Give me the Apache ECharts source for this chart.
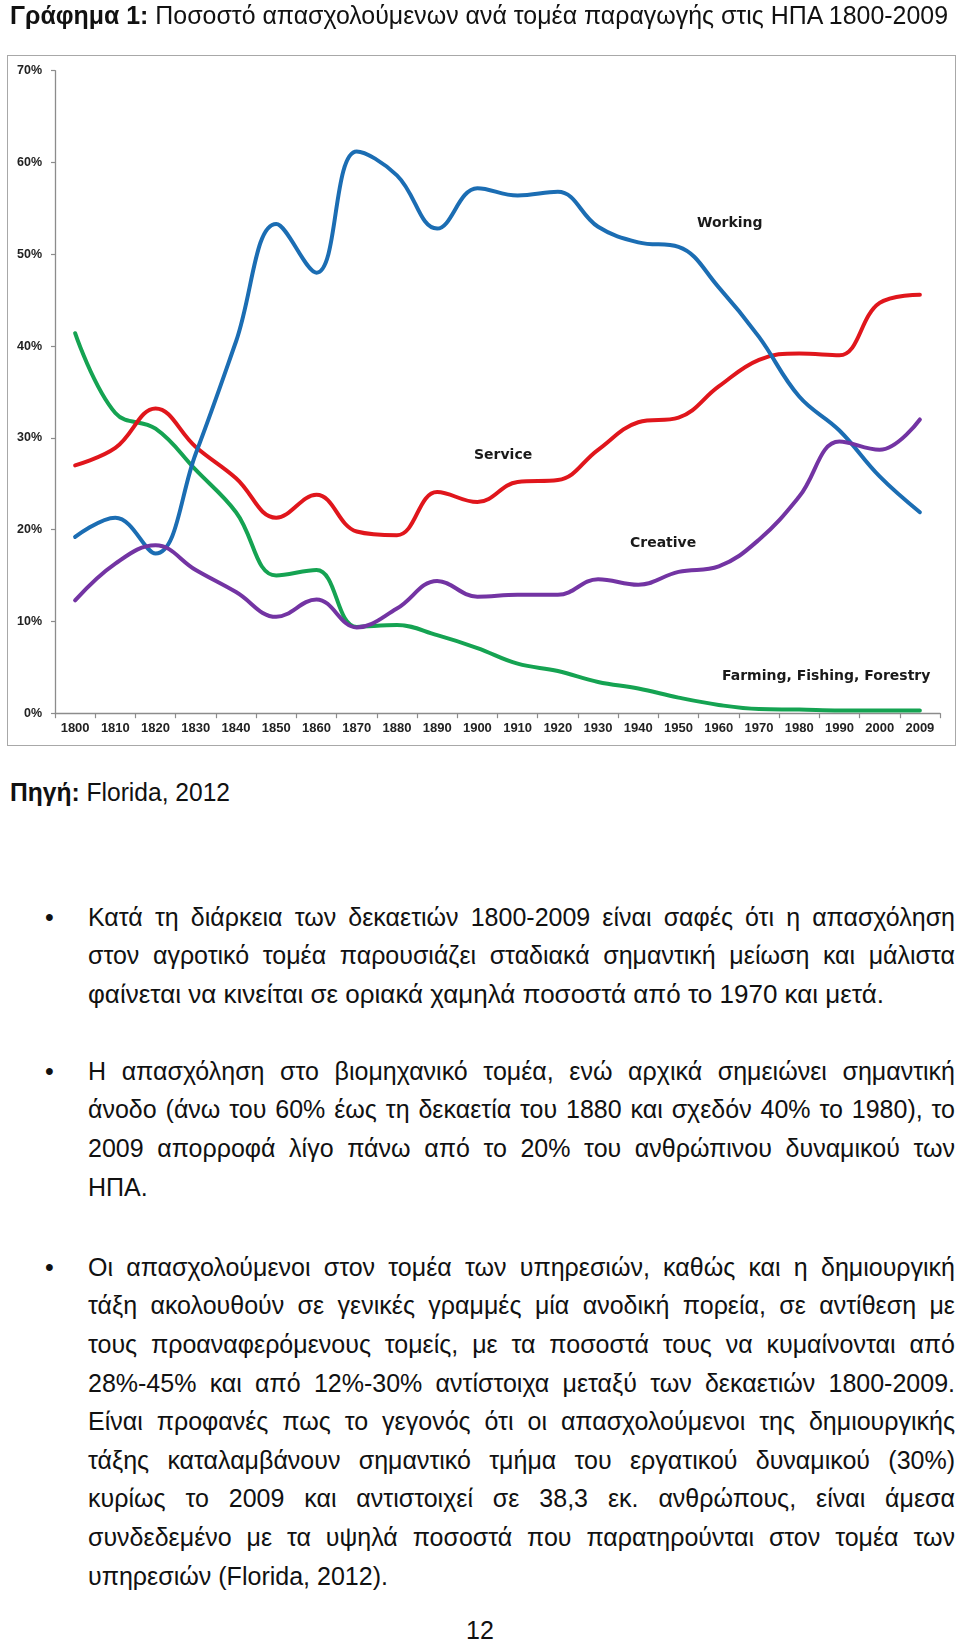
<!DOCTYPE html>
<html>
<head>
<meta charset="utf-8">
<script src="https://cdn.jsdelivr.net/npm/echarts@6/dist/echarts.min.js"></script>
<style>
html,body{margin:0;padding:0;background:#fff;}
body{width:960px;height:1642px;position:relative;overflow:hidden;color:#111;
  font-family:"Liberation Sans Narrow","Liberation Sans",Arial,sans-serif;}
.ln{position:absolute;white-space:nowrap;font-size:25px;height:38.5px;line-height:38.5px;}
.ln span{display:inline-block;transform-origin:0 50%;}
.bul{position:absolute;left:45px;font-size:25px;height:38.5px;line-height:38.5px;}
#frame{position:absolute;left:7px;top:55px;width:949px;height:691px;box-sizing:border-box;border:1.5px solid #a8a8a8;}
#chart{position:absolute;left:0;top:0;width:960px;height:760px;}
</style>
</head>
<body>
<div id="frame"></div>
<div id="chart"></div>
<script>
// ---- chart data ----
var years = ['1800','1810','1820','1830','1840','1850','1860','1870','1880','1890','1900','1910','1920','1930','1940','1950','1960','1970','1980','1990','2000','2009'];
var working  = [19.2,21.3,17.4,28.3,40.5,53.3,48.0,61.2,58.6,52.8,57.2,56.4,56.8,53.0,51.3,50.8,46.4,41.0,34.5,30.8,25.8,21.9];
var service  = [27.0,28.9,33.2,29.0,25.6,21.3,23.8,19.8,19.4,24.1,23.0,25.2,25.4,28.7,31.7,32.2,35.6,38.5,39.2,39.0,44.7,45.6];
var creative = [12.3,16.3,18.3,15.6,13.2,10.5,12.4,9.35,11.4,14.4,12.7,12.9,12.9,14.6,14.0,15.4,16.0,18.9,23.6,29.6,28.7,32.0];
var farming  = [41.4,32.7,31.0,26.5,21.9,15.0,15.6,9.4,9.6,8.5,7.1,5.4,4.6,3.4,2.7,1.7,0.9,0.45,0.4,0.3,0.3,0.3];
var seriesNames = ['Working','Service','Creative','Farming, Fishing, Forestry'];

// ---- page text ----
var titleBold = 'Γράφημα 1:';
var titleRest = ' Ποσοστό απασχολούμενων ανά τομέα παραγωγής στις ΗΠΑ 1800-2009';
var sourceBold = 'Πηγή:';
var sourceRest = ' Florida, 2012';
var bullet1 = [
 'Κατά τη διάρκεια των δεκαετιών 1800-2009 είναι σαφές ότι η απασχόληση',
 'στον αγροτικό τομέα παρουσιάζει σταδιακά σημαντική μείωση και μάλιστα',
 'φαίνεται να κινείται σε οριακά χαμηλά ποσοστά από το 1970 και μετά.'];
var bullet2 = [
 'Η απασχόληση στο βιομηχανικό τομέα, ενώ αρχικά σημειώνει σημαντική',
 'άνοδο (άνω του 60% έως τη δεκαετία του 1880 και σχεδόν 40% το 1980), το',
 '2009 απορροφά λίγο πάνω από το 20% του ανθρώπινου δυναμικού των',
 'ΗΠΑ.'];
var bullet3 = [
 'Οι απασχολούμενοι στον τομέα των υπηρεσιών, καθώς και η δημιουργική',
 'τάξη ακολουθούν σε γενικές γραμμές μία ανοδική πορεία, σε αντίθεση με',
 'τους προαναφερόμενους τομείς, με τα ποσοστά τους να κυμαίνονται από',
 '28%-45% και από 12%-30% αντίστοιχα μεταξύ των δεκαετιών 1800-2009.',
 'Είναι προφανές πως το γεγονός ότι οι απασχολούμενοι της δημιουργικής',
 'τάξης καταλαμβάνουν σημαντικό τμήμα του εργατικού δυναμικού (30%)',
 'κυρίως το 2009 και αντιστοιχεί σε 38,3 εκ. ανθρώπους, είναι άμεσα',
 'συνδεδεμένο με τα υψηλά ποσοστά που παρατηρούνται στον τομέα των',
 'υπηρεσιών (Florida, 2012).'];
var pageNumber = '12';

// ---- layout of text ----
function addLine(html, left, centerY, target, mode){
  var d = document.createElement('div');
  d.className = 'ln';
  d.style.left = left + 'px';
  d.style.top = (centerY - 19.25) + 'px';
  var s = document.createElement('span');
  s.innerHTML = html;
  d.appendChild(s);
  document.body.appendChild(d);
  var w = s.getBoundingClientRect().width;
  if (mode === 'justify') {
    if (w > target) { s.style.transform = 'scaleX(' + (target / w) + ')'; }
    else {
      var n = (s.textContent.match(/ /g) || []).length;
      if (n > 0) s.style.wordSpacing = ((target - w) / n) + 'px';
    }
  } else if (mode === 'fit') {
    if (target > 0) s.style.transform = 'scaleX(' + (target / w) + ')';
  } else if (mode === 'center') {
    d.style.left = (left - w / 2) + 'px';
  }
}
function addBullet(centerY){
  var b = document.createElement('div');
  b.className = 'bul';
  b.style.top = (centerY - 19.25) + 'px';
  b.textContent = '•';
  document.body.appendChild(b);
}
function addPara(lines, firstY, lastW){
  addBullet(firstY);
  for (var i = 0; i < lines.length; i++) {
    var last = (i === lines.length - 1);
    addLine(lines[i], 88, firstY + i * 38.6, last ? lastW : 867, last ? 'fit' : 'justify');
  }
}
addLine('<b>' + titleBold + '</b>' + titleRest, 10, 15, 938, 'fit');
addLine('<b>' + sourceBold + '</b>' + sourceRest, 10, 792, 220, 'fit');
addPara(bullet1, 917, 796);
addPara(bullet2, 1071, 0);
addPara(bullet3, 1267, 300);
addLine(pageNumber, 480, 1630, 0, 'center');

// ---- chart ----
var chart = echarts.init(document.getElementById('chart'), null, {renderer: 'canvas'});
var colors = ['#1b6db3', '#e0161c', '#7334a3', '#15a352'];
var dataSets = [working, service, creative, farming];
var series = dataSets.map(function (d, i) {
  return {
    name: seriesNames[i], type: 'line', data: d, smooth: 0.4, symbol: 'none',
    lineStyle: {width: 4, color: colors[i], cap: 'round'}, itemStyle: {color: colors[i]},
    z: [3, 2, 4, 1][i]
  };
});
var labelFont = 'bold 14px "DejaVu Sans", sans-serif';
chart.setOption({
  animation: false,
  backgroundColor: 'transparent',
  grid: {left: 55, top: 70.7, width: 885, height: 642.5, containLabel: false},
  xAxis: {
    type: 'category', data: years, boundaryGap: true,
    axisLine: {lineStyle: {color: '#8c8c8c', width: 1.3}},
    axisTick: {show: true, length: 5, alignWithLabel: false, lineStyle: {color: '#8c8c8c', width: 1.2}},
    axisLabel: {interval: 0, color: '#222', fontWeight: 'bold', fontSize: 13, fontFamily: '"Liberation Sans", Arial, sans-serif', margin: 9}
  },
  yAxis: {
    type: 'value', min: 0, max: 70, interval: 10,
    axisLine: {show: true, lineStyle: {color: '#8c8c8c', width: 1.3}},
    axisTick: {show: true, length: 4, lineStyle: {color: '#8c8c8c', width: 1.2}},
    splitLine: {show: false},
    axisLabel: {formatter: '{value}%', color: '#222', fontWeight: 'bold', fontSize: 12.5, fontFamily: '"Liberation Sans", Arial, sans-serif', margin: 13}
  },
  series: series,
  graphic: [
    {type: 'text', x: 697, y: 223, style: {text: seriesNames[0], font: labelFont, fill: '#1a1a1a', verticalAlign: 'middle'}},
    {type: 'text', x: 474, y: 455, style: {text: seriesNames[1], font: labelFont, fill: '#1a1a1a', verticalAlign: 'middle'}},
    {type: 'text', x: 630, y: 543, style: {text: seriesNames[2], font: labelFont, fill: '#1a1a1a', verticalAlign: 'middle'}},
    {type: 'text', x: 722, y: 676, style: {text: seriesNames[3], font: labelFont, fill: '#1a1a1a', verticalAlign: 'middle'}}
  ]
});
</script>
</body>
</html>
